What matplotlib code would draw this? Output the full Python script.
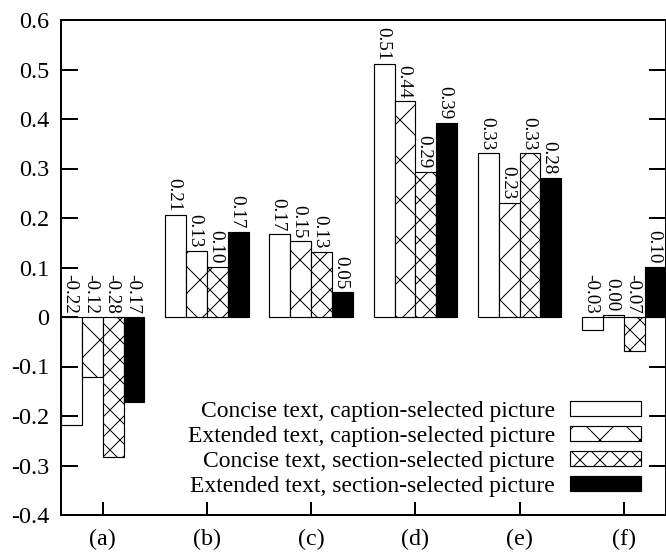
import numpy as np
import matplotlib
matplotlib.use('Agg')
import matplotlib.pyplot as plt

plt.rcParams['font.family'] = ['Liberation Serif', 'DejaVu Serif']
plt.rcParams['axes.unicode_minus'] = False
plt.rcParams['hatch.linewidth'] = 0.6
plt.rcParams['hatch.color'] = 'black'

groups = ['(a)', '(b)', '(c)', '(d)', '(e)', '(f)']
series_names = ['Concise text, caption-selected picture',
                'Extended text, caption-selected picture',
                'Concise text, section-selected picture',
                'Extended text, section-selected picture']
concise_caption = [-0.218, 0.206, 0.167, 0.511, 0.331, -0.026]
extended_caption = [-0.122, 0.134, 0.153, 0.436, 0.231, 0.004]
concise_section = [-0.283, 0.101, 0.132, 0.293, 0.331, -0.068]
extended_section = [-0.172, 0.172, 0.050, 0.392, 0.281, 0.101]
y_ticks = [-0.4, -0.3, -0.2, -0.1, 0, 0.1, 0.2, 0.3, 0.4, 0.5, 0.6]
y_tick_labels = ['-0.4', '-0.3', '-0.2', '-0.1', '0', '0.1', '0.2', '0.3', '0.4', '0.5', '0.6']

all_series = [concise_caption, extended_caption, concise_section, extended_section]
faces = ['white', 'white', 'white', 'black']
hatches = ['', 'x', 'xx', '']

# dpi 120 so the hatch spacing comes out like the gnuplot patterns
fig = plt.figure(figsize=(5.55, 4.6), dpi=120)
ax = fig.add_axes([61 / 666, 37 / 552, 604.5 / 666, 495 / 552])

x = np.arange(len(groups))
width = 0.2
for i, (vals, name) in enumerate(zip(all_series, series_names)):
    pos = x + (i - 1.5) * width
    ax.bar(pos, vals, width, color=faces[i], edgecolor='black', hatch=hatches[i],
           linewidth=0.7, label=name)
    for px, v in zip(pos, vals):
        ax.annotate(f'{v:.2f}', (px, max(v, 0)), xytext=(-1, 2), textcoords='offset points',
                    rotation=-90, ha='center', va='bottom', fontsize=11.5)

ax.set_xlim(-0.4, 5.4)
ax.set_ylim(-0.4, 0.6)
ax.set_xticks(x)
ax.set_xticklabels(groups)
ax.set_yticks(y_ticks)
ax.set_yticklabels(y_tick_labels)
ax.tick_params(axis='y', direction='in', right=True, length=10, width=1.2, labelsize=14.5, pad=7)
ax.tick_params(axis='x', direction='in', top=False, length=8, width=1.2, labelsize=14.5, pad=8.5)
for s in ax.spines.values():
    s.set_linewidth(1.2)

leg = ax.legend(loc='lower right', bbox_to_anchor=(0.96, 0.036), frameon=False, markerfirst=False,
                fontsize=14.2, handlelength=3.0, handleheight=0.6, labelspacing=0.17,
                handletextpad=0.65, borderpad=0, borderaxespad=0)
for t in leg.get_texts():
    t.set_ha('right')

fig.savefig('out.png', dpi=120)
